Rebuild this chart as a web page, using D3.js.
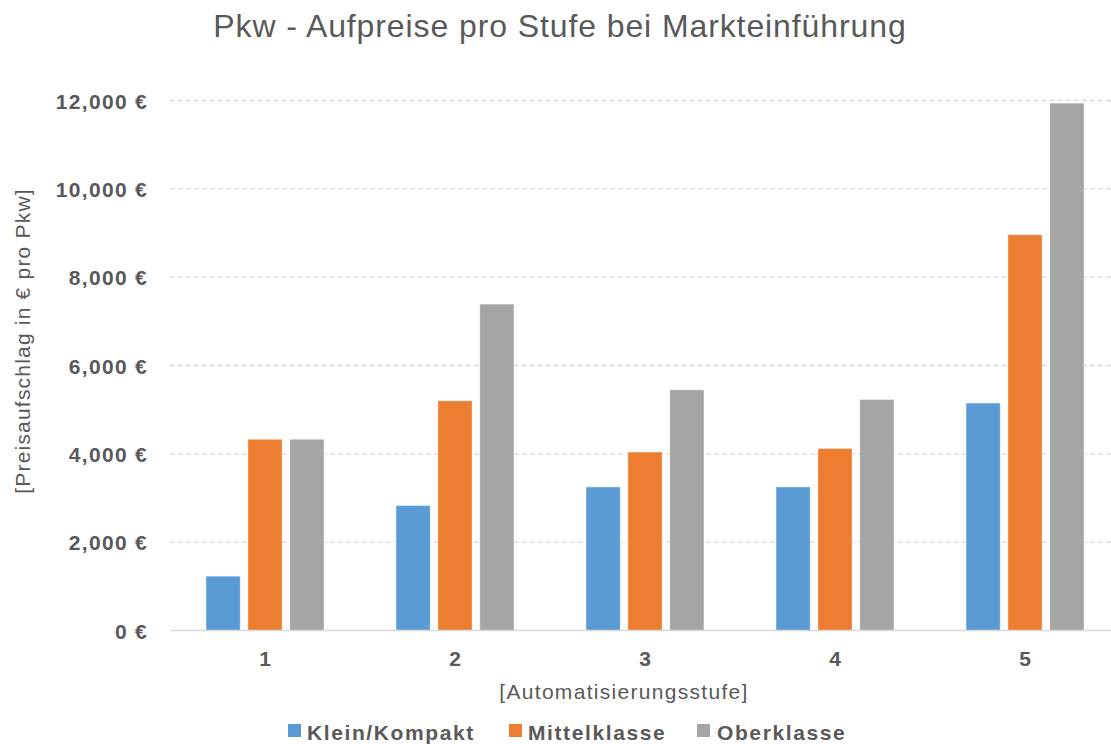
<!DOCTYPE html>
<html><head><meta charset="utf-8">
<script src="https://cdn.jsdelivr.net/npm/d3@7"></script>
<style>body{margin:0;background:#fff;}svg{display:block;font-family:"Liberation Sans",Arial,sans-serif;}</style>
</head><body><svg id="c" width="1111" height="744"></svg>
<script>
const categories = ["1","2","3","4","5"];
const seriesNames = ["Klein/Kompakt","Mittelklasse","Oberklasse"];
const kleinKompakt = [1230, 2830, 3250, 3250, 5150];
const mittelklasse = [4330, 5200, 4040, 4120, 8960];
const oberklasse = [4330, 7390, 5450, 5230, 11940];
const yTicks = [0,2000,4000,6000,8000,10000,12000];
const colors = ["#5B9BD5","#ED7D31","#A5A5A5"];
const title = "Pkw - Aufpreise pro Stufe bei Markteinführung";
const xTitle = "[Automatisierungsstufe]";
const yTitle = "[Preisaufschlag in € pro Pkw]";

(function(){
const values = [kleinKompakt, mittelklasse, oberklasse];
const svg = d3.select("#c");
const mLeft = 170, mRight = 1120, mTop = 100.5, mBottom = 630.5;
const textCol = "#595959";

const x0 = d3.scaleBand().domain(categories).range([mLeft,mRight]).paddingInner(0.379).paddingOuter(0.1895);
const x1 = d3.scaleBand().domain(seriesNames).range([0,x0.bandwidth()]).paddingInner(0.184).paddingOuter(0);
const y = d3.scaleLinear().domain([0,12000]).range([mBottom,mTop]);

svg.append("g").selectAll("line").data(yTicks.filter(d=>d>0)).join("line")
  .attr("x1",mLeft).attr("x2",1111).attr("y1",d=>y(d)).attr("y2",d=>y(d))
  .attr("stroke","#D9D9D9").attr("stroke-width",1.3).attr("stroke-dasharray","5,3");

const g = svg.append("g");
seriesNames.forEach((s,si)=>{
  g.append("g").selectAll("rect").data(categories).join("rect")
    .attr("x",c=>x0(c)+x1(s)).attr("width",x1.bandwidth())
    .attr("y",(c,i)=>y(values[si][i])).attr("height",(c,i)=>y(0)-y(values[si][i]))
    .attr("fill",colors[si]).attr("stroke","#fff").attr("stroke-opacity",0.5).attr("stroke-width",0.8);
});

svg.append("line").attr("x1",mLeft).attr("x2",1111).attr("y1",y(0)).attr("y2",y(0))
  .attr("stroke","#D9D9D9").attr("stroke-width",1.5);

const yAxis = d3.axisLeft(y).tickValues(yTicks).tickSize(0).tickPadding(0)
  .tickFormat(d=>d3.format(",")(d)+" €");
const ya = svg.append("g").attr("transform",`translate(148,0)`).call(yAxis);
ya.select(".domain").remove();
ya.selectAll("text").attr("fill",textCol).attr("font-size",21).attr("font-weight","bold")
  .attr("font-family","'Liberation Sans',Arial,sans-serif").attr("letter-spacing",1.3).attr("dy","0.36em");

const xAxis = d3.axisBottom(x0).tickSize(0).tickPadding(0);
const xa = svg.append("g").attr("transform",`translate(0,${mBottom})`).call(xAxis);
xa.select(".domain").remove();
xa.selectAll("text").attr("fill",textCol).attr("font-size",21).attr("font-weight","bold")
  .attr("font-family","'Liberation Sans',Arial,sans-serif").attr("dy",null).attr("y",35);

svg.append("text").attr("x",560).attr("y",37).attr("text-anchor","middle")
  .attr("fill",textCol).attr("font-size",32).attr("letter-spacing",0.9).text(title);
svg.append("text").attr("x",624).attr("y",699).attr("text-anchor","middle")
  .attr("fill",textCol).attr("font-size",21).attr("letter-spacing",1.3).text(xTitle);
svg.append("text").attr("transform","translate(30,341) rotate(-90)").attr("text-anchor","middle")
  .attr("fill",textCol).attr("font-size",21).attr("letter-spacing",1.2).text(yTitle);

const legSq = [288, 509, 697];
const legTx = [307, 528, 717];
const lg = svg.append("g");
seriesNames.forEach((s,i)=>{
  lg.append("rect").attr("x",legSq[i]).attr("y",724).attr("width",13).attr("height",13).attr("fill",colors[i]);
  lg.append("text").attr("x",legTx[i]).attr("y",740).attr("fill",textCol).attr("font-size",21)
    .attr("font-weight","bold").attr("letter-spacing",1.6).text(s);
});
})();
</script></body></html>
